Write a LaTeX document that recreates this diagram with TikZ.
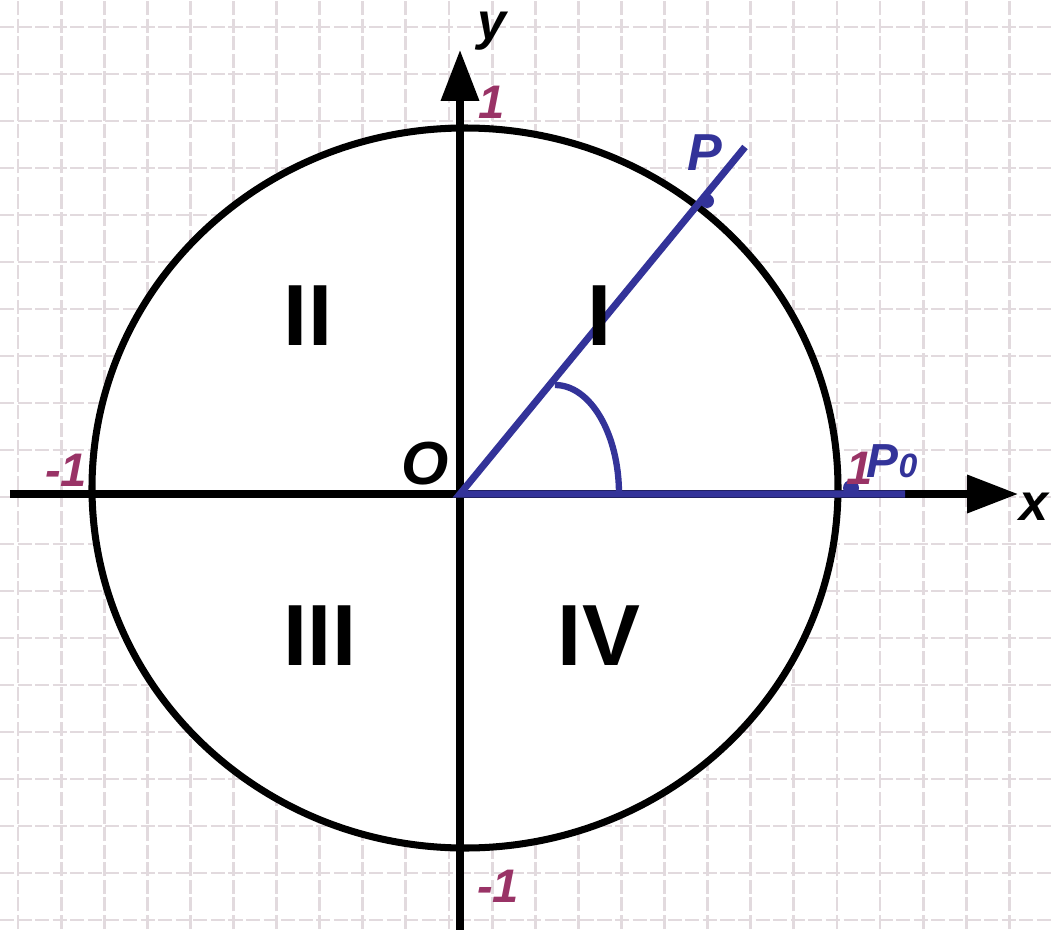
\documentclass[tikz,border=0pt]{standalone}
\usepackage{fontspec}
\setmainfont{Liberation Sans}
\usetikzlibrary{
    arrows.meta
}
\definecolor{rayblue}{RGB}{51,51,153}
\definecolor{ticklbl}{RGB}{153,51,102}
\definecolor{gridpink}{RGB}{226,218,222}

\begin{document}
\begin{tikzpicture}[
    gridline/.style={gridpink, line width=0.8pt, dash pattern=on 4pt off 1pt},
    axisline/.style={line width=2pt, -{Triangle[length=5.1mm,width=3.7mm]}},
    bluepath/.style={rayblue, line width=2pt},
    numlbl/.style={ticklbl, inner sep=0pt, font=\fontsize{13.4}{15}\selectfont\bfseries\itshape},
    ptlbl/.style={inner sep=0pt, font=\fontsize{14.8}{16}\selectfont\bfseries\itshape},
    quadlbl/.style={inner sep=0pt, font=\fontsize{24.7}{28}\selectfont\bfseries}
]
\useasboundingbox (-4.60,-4.35) rectangle (5.91,4.94);

% Squared paper
\foreach \k in {0,...,24}
    \draw[gridline] ({(18+43.1*\k-460)/100},-4.35) -- ++(0,9.29);
\foreach \k in {0,...,19}
    \draw[gridline] (-4.60,{(467-47*\k)/100}) -- ++(10.51,0);

% Unit circle
\draw[line width=2pt, fill=white] (0.05,0.06) ellipse [x radius=3.73, y radius=3.60];

% Axes
\draw[axisline] (-4.50,0) -- (5.58,0);
\draw[axisline] (0,-4.40) -- (0,4.44);

% Initial side and rotated side
\draw[bluepath] (4.45,0) -- (0,0) -- (2.85,3.47);

% Angle
\draw[rayblue, line width=1.8pt] (0.95,1.09) arc[start angle=90, end angle=0, x radius=0.64, y radius=1.09];

% Points on the circle
\fill[rayblue] (2.47,2.93) circle (0.07);
\fill[rayblue] (3.91,0.06) circle (0.08);

% Axis labels
\node[ptlbl] (ylbl) at (0.32,4.63) {y};
\node[ptlbl] (xlbl) at (5.74,-0.13) {x};
\node[inner sep=0pt, font=\fontsize{17.3}{19}\selectfont\bfseries\itshape] (origin) at (-0.35,0.30) {O};

% Unit marks
\node[numlbl] (top) at (0.32,3.92) {1};
\node[numlbl] (left) at (-3.94,0.24) {-1};
\node[numlbl] (bottom) at (0.38,-3.92) {-1};
\node[numlbl] (right) at (4.00,0.26) {1};

% Point labels
\node[ptlbl, rayblue] (plbl) at (2.45,3.41) {P};
\node[rayblue, inner sep=0pt, font=\fontsize{13.6}{15}\selectfont\bfseries\itshape] (pzero) at (4.32,0.33) {P{\fontsize{9.6}{11}\selectfont 0}};

% Quarters
\node[quadlbl] (qii) at (-1.52,1.78) {II};
\node[quadlbl] (qi) at (1.40,1.78) {I};
\node[quadlbl] (qiii) at (-1.40,-1.42) {III};
\node[quadlbl] (qiv) at (1.39,-1.42) {IV};

\end{tikzpicture}
\end{document}
